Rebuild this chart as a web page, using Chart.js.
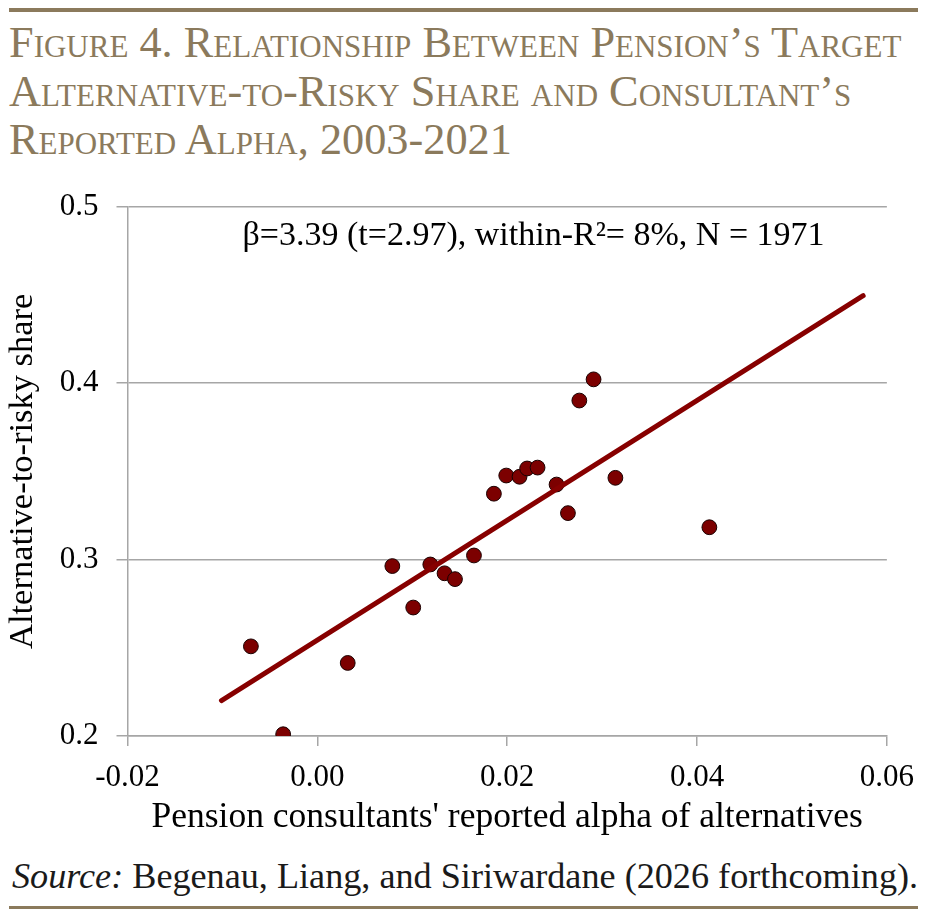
<!DOCTYPE html>
<html>
<head>
<meta charset="utf-8">
<script src="https://cdn.jsdelivr.net/npm/chart.js@4.4.1/dist/chart.umd.min.js"></script>
<style>
    html, body { margin: 0; padding: 0; background: #fff; }
    #page { position: relative; width: 927px; height: 917px; overflow: hidden; background: #fff; }
    .rule { position: absolute; left: 9px; width: 909px; background: #8b7a5c; }
    #title {
        position: absolute; left: 9px; top: 19px; width: 920px;
        font-family: "Liberation Serif", serif; font-variant: small-caps;
        font-size: 44.3px; line-height: 48.5px; color: #8b7a5c; white-space: nowrap;
    }
    #source {
        position: absolute; left: 12px; top: 856px;
        font-family: "Liberation Serif", serif; font-size: 36.2px; line-height: 40px;
        color: #1a1a1a; white-space: nowrap;
    }
    #wrap { position: absolute; left: 0; top: 170px; width: 927px; height: 673px; }
</style>
</head>
<body>
<div id="page">
    <div class="rule" style="top:8px;height:4px;"></div>
    <div id="title">
        <div>Figure 4. Relationship Between Pension’s Target</div>
        <div>Alternative-to-Risky Share and Consultant’s</div>
        <div>Reported Alpha, 2003-2021</div>
    </div>
    <div id="wrap"><canvas id="chart"></canvas></div>
    <div id="source"><i>Source:</i> Begenau, Liang, and Siriwardane (2026 forthcoming).</div>
    <div class="rule" style="top:906px;height:3px;"></div>
</div>
<script>
// valores
const alphaX = [-0.0070, -0.0036, 0.0032, 0.0079, 0.0101, 0.0119, 0.0134, 0.0145, 0.0165, 0.0186,
    0.0199, 0.0213, 0.0221, 0.0232, 0.0252, 0.0264, 0.0276, 0.0291, 0.0314, 0.0413];
const shareY = [0.2508, 0.2010, 0.2414, 0.2963, 0.2728, 0.2972, 0.2922, 0.2889, 0.3023, 0.3373,
    0.3476, 0.3469, 0.3516, 0.3521, 0.3425, 0.3263, 0.3901, 0.4021, 0.3463, 0.3183];
const fitX = [-0.0101, 0.0575];
const fitY = [0.2201, 0.4495];
const xTicks = [-0.02, 0.00, 0.02, 0.04, 0.06];
const yTicks = [0.2, 0.3, 0.4, 0.5];
const noteText = 'β=3.39 (t=2.97), within-R²= 8%, N = 1971';

const FONT = '"Liberation Serif", "Times New Roman", serif';
const GRID = '#a6a6a6';

const noteOnChart = {
    id: 'noteOnChart',
    afterDraw(c) {
        const ctx = c.ctx;
        ctx.save();
        ctx.font = '34px ' + FONT;
        ctx.fillStyle = '#000';
        ctx.textBaseline = 'alphabetic';
        ctx.fillText(noteText, c.chartArea.left + 115, c.chartArea.top + 38);
        ctx.restore();
    }
};

const CANVAS_H = 673;
const AREA_LEFT = 127.5, AREA_BOTTOM = 566;

new Chart(document.getElementById('chart'), {
    type: 'scatter',
    data: {
        datasets: [{
            type: 'line',
            data: fitX.map((x, i) => ({ x, y: fitY[i] })),
            borderColor: '#870000',
            borderWidth: 5,
            borderCapStyle: 'round',
            pointRadius: 0,
            fill: false
        }, {
            data: alphaX.map((x, i) => ({ x, y: shareY[i] })),
            backgroundColor: '#7c0000',
            borderColor: '#1a0000',
            borderWidth: 1,
            pointRadius: 7.4
        }]
    },
    options: {
        responsive: true,
        maintainAspectRatio: false,
        animation: false,
        layout: { padding: { top: 31, right: 39.5, left: 0, bottom: 0 } },
        plugins: { legend: { display: false }, tooltip: { enabled: false } },
        scales: {
            x: {
                type: 'linear', min: -0.02, max: 0.06,
                afterBuildTicks: s => { s.ticks = xTicks.map(v => ({ value: v })); },
                afterFit: s => { s.height = CANVAS_H - AREA_BOTTOM; },
                ticks: {
                    callback: v => v.toFixed(2),
                    font: { family: FONT, size: 31 }, color: '#000', padding: 13
                },
                grid: { drawOnChartArea: false, drawTicks: true, tickLength: 10, color: GRID, lineWidth: 1.5 },
                border: { display: true, color: GRID, width: 1.5 },
                title: {
                    display: true, text: "Pension consultants' reported alpha of alternatives",
                    font: { family: FONT, size: 35.5 }, color: '#000', padding: { top: 2 }
                }
            },
            y: {
                min: 0.2, max: 0.5,
                afterBuildTicks: s => { s.ticks = yTicks.map(v => ({ value: v })); },
                afterFit: s => { s.width = AREA_LEFT; },
                ticks: {
                    callback: v => v.toFixed(1),
                    font: { family: FONT, size: 31 }, color: '#000', padding: 18
                },
                grid: { drawTicks: true, tickLength: 11, color: GRID, lineWidth: 1.5 },
                border: { display: true, color: GRID, width: 1.5 },
                title: {
                    display: true, text: 'Alternative-to-risky share',
                    font: { family: FONT, size: 34.5 }, color: '#000', padding: { top: 2, bottom: 0 }
                }
            }
        }
    },
    plugins: [noteOnChart]
});
</script>
</body>
</html>
